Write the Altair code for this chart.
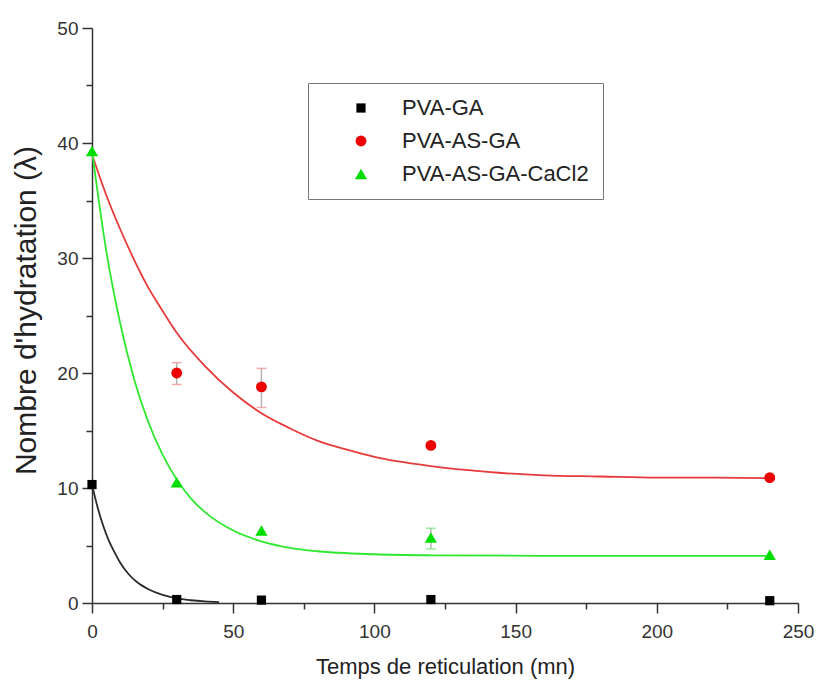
import altair as alt
import pandas as pd

series_names = ["PVA-GA", "PVA-AS-GA", "PVA-AS-GA-CaCl2"]

# Measured hydration numbers vs crosslinking time
ga_time = [0, 30, 60, 120, 240]
ga_value = [10.3, 0.3, 0.25, 0.3, 0.2]

as_time = [30, 60, 120, 240]
as_value = [20.0, 18.8, 13.7, 10.9]

ca_time = [0, 30, 60, 120, 240]
ca_value = [39.3, 10.5, 6.3, 5.7, 4.2]

# Error bars (low / high)
err_series = ["PVA-AS-GA", "PVA-AS-GA", "PVA-AS-GA-CaCl2"]
err_time = [30, 60, 120]
err_low = [19.0, 17.0, 4.7]
err_high = [20.9, 20.4, 6.5]

# Exponential-decay fit curves
fit_ga_time = [0, 2, 4, 6, 8, 10, 13, 16, 20, 25, 30, 35, 40, 45]
fit_ga_value = [10.3, 8.3, 6.7, 5.4, 4.4, 3.5, 2.5, 1.8, 1.2, 0.7, 0.4, 0.24, 0.14, 0.08]

fit_as_time = [0, 5, 10, 15, 20, 25, 30, 40, 50, 60, 70, 80, 90, 100, 120, 140, 160, 180, 200, 220, 240]
fit_as_value = [39.0, 35.5, 32.5, 29.8, 27.4, 25.4, 23.5, 20.6, 18.3, 16.5, 15.2, 14.1, 13.35, 12.7,
                11.9, 11.4, 11.1, 11.0, 10.9, 10.9, 10.85]

fit_ca_time = [0, 5, 10, 15, 20, 25, 30, 35, 40, 50, 60, 70, 80, 100, 120, 160, 200, 240]
fit_ca_value = [39.3, 30.7, 24.3, 19.4, 15.7, 12.9, 10.75, 9.1, 7.9, 6.3, 5.36, 4.8, 4.5, 4.24,
                4.15, 4.1, 4.1, 4.1]

x_major = [0, 50, 100, 150, 200, 250]
x_minor = [25, 75, 125, 175, 225]
y_major = [0, 10, 20, 30, 40, 50]
y_minor = [5, 15, 25, 35, 45]

point_colors = ["#000000", "#ee0000", "#00dd00"]
point_sizes = [85, 150, 170]
line_colors = ["#2a2a2a", "#e83a3a", "#2ee82e"]
cap_colors = ["#888888", "#f08a8a", "#6be86b"]
shapes = ["square", "circle", "triangle-up"]

FONT = "Liberation Sans"


def frame(name, times, values):
    return pd.DataFrame({"series": name, "time": times, "value": values})


points = pd.concat([
    frame(series_names[0], ga_time, ga_value),
    frame(series_names[1], as_time, as_value),
    frame(series_names[2], ca_time, ca_value),
], ignore_index=True)

fits = pd.concat([
    frame(series_names[0], fit_ga_time, fit_ga_value),
    frame(series_names[1], fit_as_time, fit_as_value),
    frame(series_names[2], fit_ca_time, fit_ca_value),
], ignore_index=True)

errors = pd.DataFrame({"series": err_series, "time": err_time, "low": err_low, "high": err_high})

x_scale = alt.Scale(domain=[0, 250], nice=False, zero=False)
y_scale = alt.Scale(domain=[0, 50], nice=False, zero=False)

axis_common = dict(
    grid=False, tickColor="#333333", tickWidth=1.5, domainColor="#333333", domainWidth=1.5,
    labelFont=FONT, labelColor="#333333", labelFontSize=19, titleFont=FONT,
    titleFontWeight="normal", titleColor="#222222",
)

main_x_axis = alt.Axis(
    orient="bottom", values=x_major, format="d", tickSize=10, labelPadding=9, labelFlush=False,
    title="Temps de reticulation (mn)", titleFontSize=22, titleX=353, titleY=70,
    titleAlign="center", titleBaseline="alphabetic", **axis_common,
)
main_y_axis = alt.Axis(
    orient="left", values=y_major, format="d", tickSize=10, labelPadding=4, labelFlush=False,
    title="Nombre d'hydratation (λ)", titleFontSize=30, titleAngle=270, titleX=-66, titleY=282,
    titleAlign="center", titleBaseline="middle", **axis_common,
)
minor_x_axis = alt.Axis(
    orient="bottom", values=x_minor, tickSize=6, labels=False, domain=False, title=None,
    grid=False, tickColor="#333333", tickWidth=1.5,
)
minor_y_axis = alt.Axis(
    orient="left", values=y_minor, tickSize=6, labels=False, domain=False, title=None,
    grid=False, tickColor="#333333", tickWidth=1.5,
)

legend = alt.Legend(
    orient="none", legendX=216, legendY=55, title=None, strokeColor="#777777",
    fillColor="#ffffff", padding=14, labelFont=FONT, labelFontSize=22, labelColor="#222222",
    labelLimit=400, symbolOffset=28, labelOffset=30, rowPadding=11,
)

# Fitted curves, one layer per series
fit_layers = []
for i, (name, colour) in enumerate(zip(series_names, line_colors)):
    fit_layers.append(
        alt.Chart(fits).transform_filter(alt.datum.series == name)
        .mark_line(color=colour, strokeWidth=1.8, interpolate="monotone")
        .encode(
            x=alt.X("time:Q", scale=x_scale, axis=minor_x_axis if i == 0 else None),
            y=alt.Y("value:Q", scale=y_scale, axis=minor_y_axis if i == 0 else None),
        )
    )

stem_layer = alt.Chart(errors).mark_rule(color="#b4b4b4", strokeWidth=1.5).encode(
    x=alt.X("time:Q", scale=x_scale, axis=None),
    y=alt.Y("low:Q", scale=y_scale, axis=None),
    y2="high:Q",
)

# Error-bar caps, one layer per series
cap_layers = []
for name, colour in zip(series_names[1:], cap_colors[1:]):
    cap_layers.append(
        alt.Chart(errors).transform_filter(alt.datum.series == name)
        .transform_fold(["low", "high"], as_=["end", "level"])
        .mark_tick(orient="horizontal", size=10, thickness=1.5, color=colour)
        .encode(
            x=alt.X("time:Q", scale=x_scale, axis=None),
            y=alt.Y("level:Q", scale=y_scale, axis=None),
        )
    )

point_layer = alt.Chart(points).mark_point(filled=True, opacity=1).encode(
    x=alt.X("time:Q", scale=x_scale, axis=main_x_axis),
    y=alt.Y("value:Q", scale=y_scale, axis=main_y_axis),
    color=alt.Color("series:N", scale=alt.Scale(domain=series_names, range=point_colors), legend=legend),
    shape=alt.Shape("series:N", scale=alt.Scale(domain=series_names, range=shapes), legend=legend),
    size=alt.Size("series:N", scale=alt.Scale(domain=series_names, range=point_sizes), legend=legend),
)

chart = alt.layer(*fit_layers, stem_layer, *cap_layers, point_layer).resolve_axis(
    x="independent", y="independent"
).properties(
    width=706, height=575,
    padding={"left": 92, "top": 28, "right": 22, "bottom": 86},
    autosize=alt.AutoSizeParams(type="none"),
    background="#ffffff",
).configure_view(stroke=None)

chart.save("out.html", embed_options={"renderer": "svg", "actions": False})
